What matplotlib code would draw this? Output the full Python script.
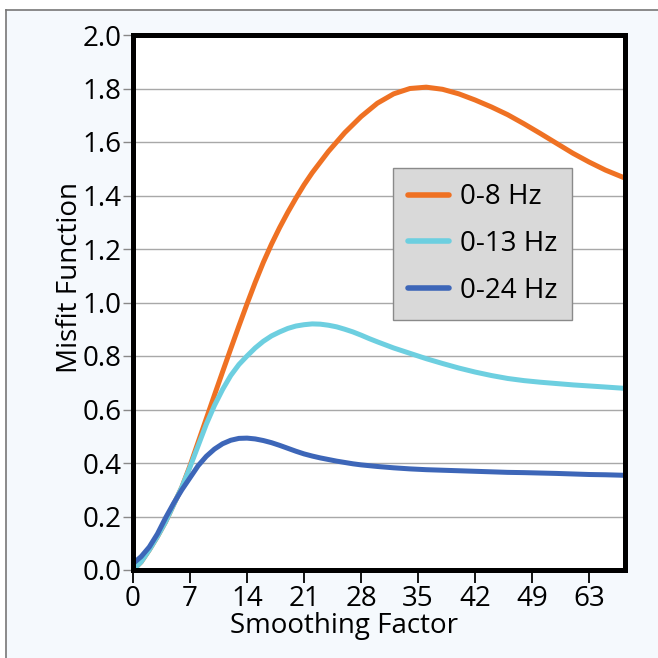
"""
Misfit function vs smoothing factor
"""

import matplotlib
matplotlib.use('Agg')

import matplotlib.pyplot as plt
from matplotlib.lines import Line2D
from matplotlib.patches import Rectangle

plt.rcParams['font.family'] = ['Open Sans', 'DejaVu Sans']

# 数据
x_vals = [0, 1, 2, 3, 4, 5, 6, 7, 8, 9, 10, 11, 12, 13, 14, 15, 16, 17, 18, 19, 20,
          21, 22, 23, 24, 25, 26, 27, 28, 29, 30,
          32, 34, 36, 38, 40, 42, 44, 46, 48, 50, 52, 54, 56, 58, 60.4]

misfit_8hz = [0.0, 0.03, 0.075, 0.125, 0.18, 0.245, 0.31, 0.39, 0.478, 0.566, 0.654,
              0.741, 0.827, 0.912, 0.995, 1.075, 1.15, 1.218, 1.28, 1.337, 1.39,
              1.44, 1.485, 1.525, 1.565, 1.60, 1.635, 1.665, 1.695, 1.72, 1.745,
              1.78, 1.80, 1.805, 1.797, 1.78, 1.757, 1.731, 1.702, 1.668, 1.632,
              1.595, 1.558, 1.525, 1.495, 1.465]

misfit_13hz = [0.0, 0.03, 0.075, 0.125, 0.18, 0.245, 0.31, 0.385, 0.465, 0.545, 0.615,
               0.675, 0.727, 0.768, 0.80, 0.83, 0.855, 0.875, 0.89, 0.903, 0.912,
               0.917, 0.92, 0.919, 0.915, 0.909, 0.90, 0.89, 0.878, 0.865, 0.853,
               0.83, 0.81, 0.79, 0.772, 0.755, 0.74, 0.727, 0.716, 0.708, 0.702,
               0.697, 0.692, 0.688, 0.684, 0.679]

misfit_24hz = [0.024, 0.05, 0.086, 0.135, 0.195, 0.25, 0.30, 0.345, 0.39, 0.425, 0.452,
               0.472, 0.485, 0.492, 0.493, 0.49, 0.484, 0.476, 0.466, 0.455, 0.444,
               0.434, 0.426, 0.419, 0.413, 0.407, 0.402, 0.397, 0.393, 0.39, 0.387,
               0.382, 0.378, 0.375, 0.373, 0.371, 0.369, 0.367, 0.365, 0.364, 0.3625,
               0.361, 0.359, 0.357, 0.356, 0.354]

series_labels = ['0-8 Hz', '0-13 Hz', '0-24 Hz']
series_colors = ['#ef7123', '#6dcfe0', '#3d66b8']

x_tick_pos = [0, 7, 14, 21, 28, 35, 42, 49, 56]
x_tick_labels = ['0', '7', '14', '21', '28', '35', '42', '49', '63']
y_ticks = [0.0, 0.2, 0.4, 0.6, 0.8, 1.0, 1.2, 1.4, 1.6, 1.8, 2.0]

fig = plt.figure(figsize=(6.58, 6.58), dpi=100)
fig.patch.set_facecolor('white')

# 背景和外框
fig.add_artist(Rectangle((6 / 658, 0), 1, 1 - 10 / 658, transform=fig.transFigure,
                         facecolor='#f5f9fd', edgecolor='none', zorder=0))
fig.add_artist(Line2D([6 / 658, 1], [1 - 10 / 658, 1 - 10 / 658], transform=fig.transFigure,
                      color='#777777', lw=1.2))
fig.add_artist(Line2D([6 / 658, 6 / 658], [0, 1 - 10 / 658], transform=fig.transFigure,
                      color='#777777', lw=1.2))

ax = fig.add_axes([133 / 658, 88 / 658, 492 / 658, 535 / 658])
ax.set_facecolor('white')

for ys, lab, col in zip([misfit_8hz, misfit_13hz, misfit_24hz], series_labels, series_colors):
    ax.plot(x_vals, ys, color=col, lw=3.6, label=lab, solid_capstyle='round',
            solid_joinstyle='round')

ax.set_xlim(0, 60.4)
ax.set_ylim(0, 2.0)
ax.set_xticks(x_tick_pos)
ax.set_xticklabels(x_tick_labels)
ax.set_yticks(y_ticks)
ax.set_yticklabels([f'{v:.1f}' for v in y_ticks])

ax.yaxis.grid(True, color='#a8a8a8', lw=1.0)
ax.set_axisbelow(True)

for spine in ax.spines.values():
    spine.set_color('black')
    spine.set_linewidth(3.6)

ax.tick_params(axis='x', colors='black', length=9, width=1.3, pad=2, labelsize=20)
ax.tick_params(axis='y', colors='#888888', labelcolor='black', length=7, width=1.0,
               pad=1, labelsize=20)

ax.set_xlabel('Smoothing Factor', fontsize=20)
ax.xaxis.set_label_coords(0.429, -0.078)
ax.set_ylabel('Misfit Function', fontsize=20)
ax.yaxis.set_label_coords(-0.10, 0.547)

leg = ax.legend(loc='upper left', bbox_to_anchor=(0.5285, 0.7514), borderaxespad=0,
                fontsize=20, frameon=True, fancybox=False, framealpha=1,
                facecolor='#d9d9d9', edgecolor='#8a8a8a', handlelength=1.45,
                handletextpad=0.4, labelspacing=0.67, borderpad=0.55)
leg.get_frame().set_linewidth(1.0)
for line in leg.get_lines():
    line.set_linewidth(4.0)

fig.savefig('out.png', dpi=100, facecolor=fig.get_facecolor())
